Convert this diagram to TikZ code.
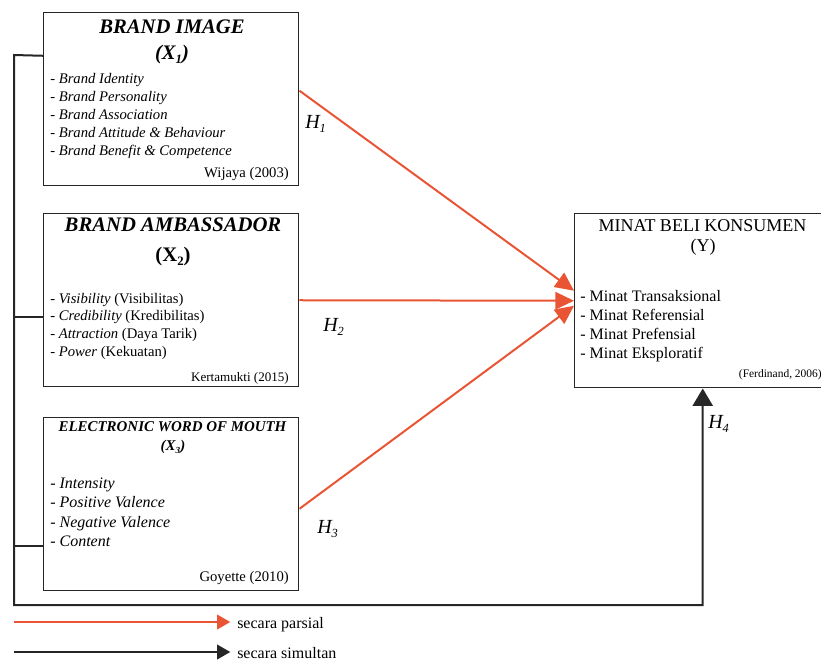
\documentclass[tikz,border=0pt]{standalone}
\usepackage{fontspec}
\setmainfont{Liberation Serif}
\usetikzlibrary{arrows.meta}
\definecolor{merah}{RGB}{233,84,52}
\newcommand{\indeks}[1]{\raisebox{-0.45ex}{\scalebox{0.62}{#1}}}

\begin{document}
\begin{tikzpicture}[x=0.75pt,y=-0.75pt]
            \tikzstyle{every node}+=[inner sep=0pt]
            \tikzstyle{kotak}=[draw=black!85, line width=1.1pt, anchor=north west, minimum width=191.25pt, minimum height=129.75pt]
            \tikzstyle{judul}=[anchor=base, font=\fontsize{15.5}{17}\selectfont\bfseries\itshape]
            \tikzstyle{isi}=[anchor=base west, align=left, font=\fontsize{11}{13.5}\selectfont]
            \tikzstyle{sumber}=[anchor=base east, font=\fontsize{11}{13}\selectfont]
            \tikzstyle{hipo}=[anchor=base west, font=\fontsize{15}{17}\selectfont\itshape]
            \tikzstyle{ket}=[anchor=base west, font=\fontsize{12}{14}\selectfont]
            \tikzstyle{garis}=[draw=black!85, line width=1.5pt]
            \tikzstyle{parsial}=[draw=merah, line width=1.5pt, -{Triangle[length=14pt,width=13pt]}]
            \tikzstyle{simultan}=[draw=black!85, line width=1.5pt, -{Triangle[length=13pt,width=15pt]}]
            \useasboundingbox (0,0) rectangle (821,662);
            \node[kotak] (bi) at (43,12) {};
            \node[judul] (bi-j) at (172,33.5) {BRAND IMAGE};
            \node[judul] (bi-x) at (172,59) {(X\indeks{1})};
            \node[isi, font=\fontsize{11}{13.5}\selectfont\itshape] (bi-i) at (50,155.5) {- Brand Identity\\- Brand Personality\\- Brand Association\\- Brand Attitude \& Behaviour\\- Brand Benefit \& Competence};
            \node[sumber] (bi-s) at (289,177.5) {Wijaya (2003)};
            \node[kotak] (ba) at (43,213) {};
            \node[judul] (ba-j) at (173,231.7) {BRAND AMBASSADOR};
            \node[judul, font=\fontsize{15.5}{17}\selectfont\bfseries] (ba-x) at (173,261.7) {(X\indeks{2})};
            \node[isi, font=\fontsize{11}{13.4}\selectfont] (ba-i) at (50,356.7) {- \textit{Visibility} (Visibilitas)\\- \textit{Credibility} (Kredibilitas)\\- \textit{Attraction} (Daya Tarik)\\- \textit{Power} (Kekuatan)};
            \node[sumber, font=\fontsize{9.8}{12}\selectfont] (ba-s) at (289,381.7) {Kertamukti (2015)};
            \node[kotak] (ew) at (43,417) {};
            \node[judul, font=\fontsize{11.2}{13}\selectfont\bfseries\itshape] (ew-j) at (172.5,431.7) {ELECTRONIC WORD OF MOUTH};
            \node[judul, font=\fontsize{11.2}{13}\selectfont\bfseries\itshape] (ew-x) at (173,450) {(X\indeks{3})};
            \node[isi, font=\fontsize{12}{14.6}\selectfont\itshape] (ew-i) at (50,546.7) {- Intensity\\- Positive Valence\\- Negative Valence\\- Content};
            \node[sumber] (ew-s) at (289,581.7) {Goyette (2010)};
            \node[kotak, minimum width=186pt, minimum height=130.5pt] (ym) at (574,213) {};
            \node[judul, font=\fontsize{13.5}{15}\selectfont] (ym-j) at (702.5,231.7) {MINAT BELI KONSUMEN};
            \node[judul, font=\fontsize{13.5}{15}\selectfont] (ym-x) at (703,251.7) {(Y)};
            \node[isi, font=\fontsize{12}{14.2}\selectfont] (ym-i) at (580,358.3) {- Minat Transaksional\\- Minat Referensial\\- Minat Prefensial\\- Minat Eksploratif};
            \node[sumber, font=\fontsize{8.6}{10}\selectfont] (ym-s) at (822,377.3) {(Ferdinand, 2006)};
            \draw[parsial] ([yshift=6.4pt]bi.east) -- ([yshift=7.5pt]ym.west);
            \draw[parsial] (ba.east) -- (ym.west);
            \draw[parsial] ([yshift=-3.4pt]ew.east) -- ([yshift=-3.75pt]ym.west);
            \node[hipo] (h1) at (305,128) {H\indeks{1}};
            \node[hipo] (h2) at (323,331.7) {H\indeks{2}};
            \node[hipo] (h3) at (317,533) {H\indeks{3}};
            \node[hipo] (h4) at (708,428) {H\indeks{4}};
            \coordinate (kiri) at (14,55);
            \coordinate (sudut) at (14,605);
            \draw[simultan] ([yshift=32.6pt]bi.west) -- (kiri) -- (sudut) -| ([xshift=3pt]ym.south);
            \draw[garis] ([yshift=-12.75pt]ba.west) -- ++(-29,0);
            \draw[garis] ([yshift=-31.1pt]ew.west) -- ++(-29,0);
            \coordinate (lp) at (14,622);
            \coordinate (ls) at (14,652);
            \node[ket] (kp) at (237,628) {secara parsial};
            \node[ket] (ks) at (237,658) {secara simultan};
            \draw[parsial, -{Triangle[length=10pt,width=11pt]}, shorten >=5pt] (lp) -- (lp -| kp.west);
            \draw[simultan, -{Triangle[length=10pt,width=11pt]}, shorten >=5pt] (ls) -- (ls -| ks.west);
            \end{tikzpicture}
\end{document}
